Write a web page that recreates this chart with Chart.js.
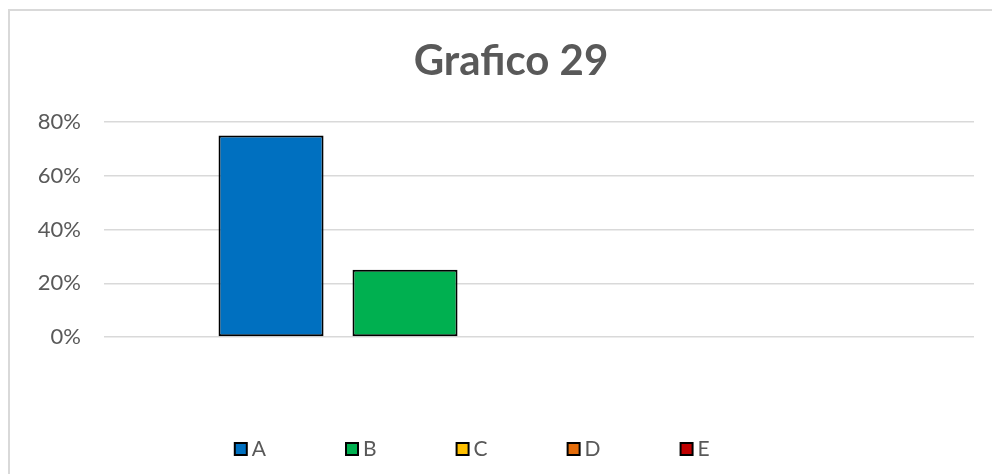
<!DOCTYPE html>
<html>
<head>
<meta charset="utf-8">
<title>Grafico 29</title>
<script src="https://cdn.jsdelivr.net/npm/chart.js@4.4.1/dist/chart.umd.min.js"></script>
<style>
    html, body { margin: 0; padding: 0; background: #fff; overflow: hidden; }
    #wrap { position: relative; width: 992px; height: 474px; }
    #frame {
        position: absolute; left: 8px; top: 9px;
        width: 1000px; height: 500px;
        border: 2px solid #d9d9d9; pointer-events: none;
    }
    canvas { position: absolute; left: 0; top: 0; }
</style>
</head>
<body>
<div id="wrap">
    <canvas id="chart" width="992" height="474"></canvas>
    <div id="frame"></div>
</div>
<script>
// data
const categories = [''];
const seriesNames = ['A', 'B', 'C', 'D', 'E'];
const seriesValues = [0.75, 0.25, 0, 0, 0];
const seriesColors = ['#0070C0', '#00B050', '#FFC000', '#E46C0A', '#C00000'];
const yTicks = [0, 0.2, 0.4, 0.6, 0.8];

const textGray = '#595959';

// nudge title and legend sideways, the way they sit in the original
const nudgeBlocks = {
    id: 'nudgeBlocks',
    afterLayout(chart) {
        if (chart.titleBlock) {
            chart.titleBlock.left += 20;
            chart.titleBlock.right += 20;
        }
        if (chart.legend) {
            chart.legend.left -= 16;
            chart.legend.right -= 16;
        }
    }
};

function drawChart() {
    Chart.defaults.font.family = 'Lato, "Open Sans", sans-serif';
    Chart.defaults.color = textGray;

    const datasets = seriesNames.map((name, i) => ({
        label: name,
        data: [seriesValues[i]],
        backgroundColor: seriesColors[i],
        borderColor: '#000',
        borderWidth: 2,
        borderSkipped: false,
        categoryPercentage: 0.77,
        barPercentage: 0.784
    }));

    const ctx = document.getElementById('chart').getContext('2d');
    new Chart(ctx, {
        type: 'bar',
        data: { labels: categories, datasets: datasets },
        plugins: [nudgeBlocks],
        options: {
            responsive: false,
            animation: false,
            layout: { padding: { left: 8, right: 18, top: 0, bottom: 4.5 } },
            plugins: {
                title: {
                    display: true,
                    text: 'Grafico 29',
                    color: textGray,
                    font: { size: 42, weight: 'bold' },
                    padding: { top: 36.4, bottom: 35.2 }
                },
                legend: {
                    position: 'bottom',
                    labels: {
                        // square marker drawn as a point so the text sits close to it
                        usePointStyle: true,
                        pointStyle: 'rect',
                        boxWidth: 1,
                        boxHeight: 12,
                        padding: 85.5,
                        color: textGray,
                        font: { size: 21 }
                    }
                },
                tooltip: { enabled: false }
            },
            scales: {
                x: {
                    grid: { display: false, drawTicks: false },
                    border: { display: false },
                    ticks: { font: { size: 6, lineHeight: '6px' }, padding: 5 }
                },
                y: {
                    min: 0,
                    max: 0.8,
                    afterFit: s => { s.width = 96; },
                    afterBuildTicks: s => { s.ticks = yTicks.map(v => ({ value: v })); },
                    grid: { color: '#d9d9d9', lineWidth: 1.5, drawTicks: false },
                    border: { display: false },
                    ticks: {
                        padding: 23,
                        color: textGray,
                        font: { size: 22 },
                        callback: v => Math.round(v * 100) + '%'
                    }
                }
            }
        }
    });
}

document.fonts.load('22px Lato').then(() => document.fonts.load('bold 42px Lato')).then(drawChart, drawChart);
</script>
</body>
</html>
